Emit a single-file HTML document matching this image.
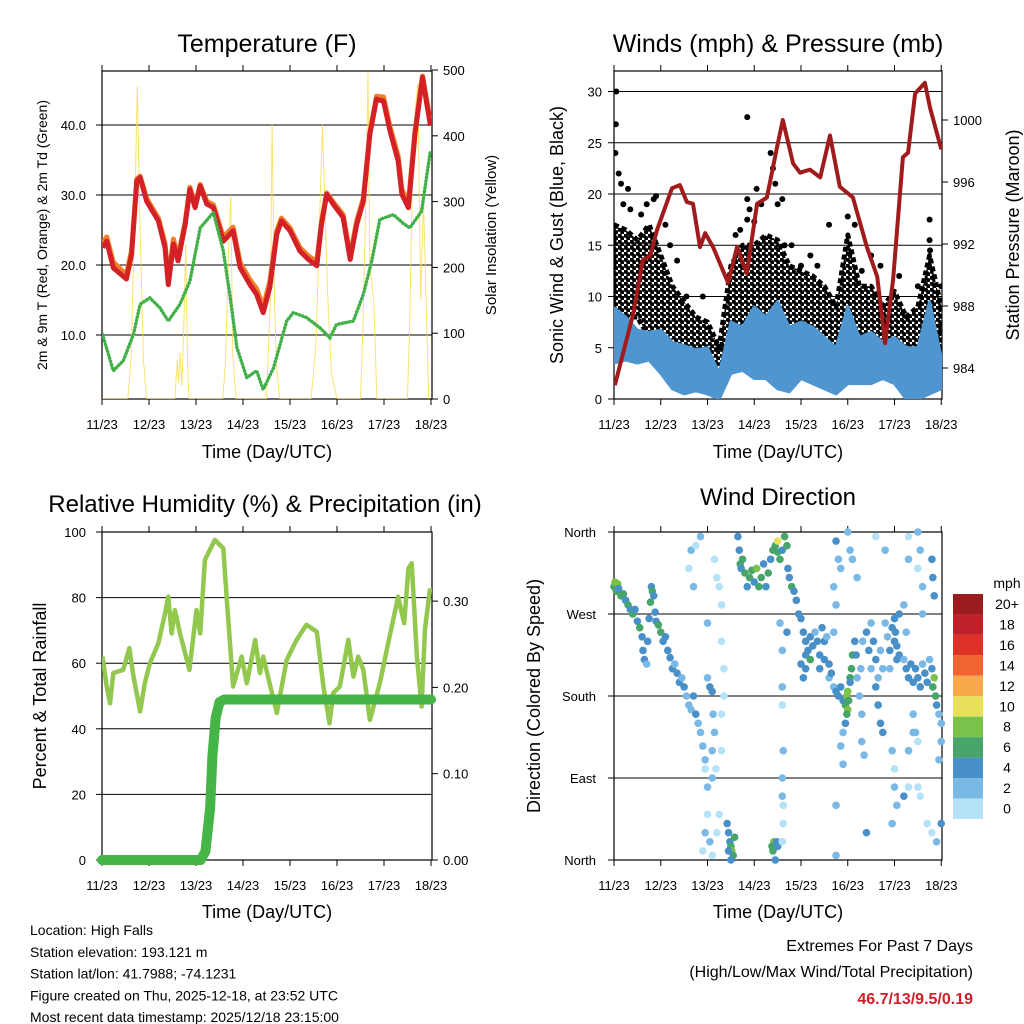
<!DOCTYPE html>
<html><head><meta charset="utf-8"><style>
body{margin:0;background:#fff;}
svg{display:block;font-family:"Liberation Sans",Arial,sans-serif;}
</style></head><body>
<svg id="fig" width="1024" height="1024" viewBox="0 0 1024 1024">
<defs>
<clipPath id="c1"><rect x="102" y="71" width="330" height="328"/></clipPath>
<clipPath id="c2"><rect x="614" y="71" width="328" height="328"/></clipPath>
<clipPath id="c3"><rect x="102" y="532" width="330" height="328"/></clipPath>
<clipPath id="c4"><rect x="610" y="528" width="336" height="336"/></clipPath>
<pattern id="dotpat" width="6" height="6" patternUnits="userSpaceOnUse">
<circle cx="1.5" cy="1.5" r="2.4" fill="#000"/><circle cx="4.5" cy="4.5" r="2.4" fill="#000"/>
</pattern>
</defs>
<g id="root"></g>
</svg>
<script>
// ---------- DATA ----------
const dayLabels = ["11/23","12/23","13/23","14/23","15/23","16/23","17/23","18/23"];
// Temperature (F)
const tempT = [0.01,0.1,0.24,0.52,0.63,0.74,0.81,0.95,1.2,1.34,1.41,1.52,1.62,1.77,1.87,1.98,2.09,2.23,2.37,2.58,2.79,2.94,3.15,3.29,3.43,3.57,3.72,3.82,4.0,4.21,4.39,4.57,4.67,4.78,4.92,5.13,5.28,5.42,5.56,5.7,5.84,5.99,6.13,6.3,6.38,6.52,6.66,6.82,6.91,6.99];
const temp2m = [22.5,23.4,19.6,18.0,21.5,32.0,32.5,29.1,26.3,22.5,17.2,23.0,20.6,25.8,30.8,28.2,31.3,28.7,28.2,23.4,24.9,19.6,17.2,15.8,13.2,16.8,24.4,26.3,24.9,22.0,20.8,19.9,25.8,30.1,28.7,26.8,20.8,25.8,29.1,38.7,43.7,43.4,39.1,34.9,30.1,28.2,38.7,46.8,43.0,39.9];
const temp9mOffset = [0.6,0.6,0.8,0.6,0.6,0.3,0.2,0.4,0.4,0.6,0.6,0.7,0.6,0.4,0.3,0.4,0.2,0.4,0.4,0.6,0.5,0.7,0.7,0.8,0.8,0.8,0.5,0.4,0.4,0.5,0.5,0.6,0.4,0.2,0.3,0.4,0.5,0.5,0.4,0.3,0.4,0.6,0.6,0.7,0.7,0.7,0.5,0.2,0.5,0.5];
const dewT = [0.01,0.24,0.45,0.67,0.81,1.02,1.23,1.41,1.66,1.87,2.09,2.37,2.58,2.72,2.87,3.08,3.29,3.43,3.65,3.93,4.07,4.35,4.64,4.85,4.99,5.35,5.56,5.74,5.91,6.2,6.4,6.55,6.8,6.98];
const dewV = [10.1,4.9,6.3,10.1,14.4,15.3,13.9,12.0,14.4,17.7,25.3,27.5,22.0,15.8,8.2,3.9,4.9,2.2,5.3,12.0,13.2,12.5,11.0,9.6,11.5,12.0,15.8,20.6,26.5,27.2,26.0,25.3,27.7,36.0];
const solarT = [0,0.55,0.62,0.7,0.75,0.8,0.88,0.95,1.55,1.6,1.63,1.66,1.7,1.74,1.78,1.82,1.85,2.57,2.63,2.7,2.74,2.78,2.85,3.5,3.58,3.62,3.67,3.71,3.78,4.45,4.55,4.69,4.8,4.88,5.0,5.5,5.55,5.62,5.66,5.7,5.78,5.85,6.5,6.55,6.62,6.72,6.78,6.84,6.95];
const solarV = [0,0,60,300,475,290,60,0,0,60,25,70,20,110,235,60,0,0,60,240,310,70,0,0,150,417,150,50,0,0,80,417,160,40,0,0,100,320,498,200,150,0,0,120,400,480,150,300,0];
// Winds (mph) & Pressure (mb)
const windT = [0,0.25,0.5,0.75,1,1.25,1.5,1.75,2,2.25,2.5,2.75,3,3.25,3.5,3.75,4,4.25,4.5,4.75,5,5.25,5.5,5.75,6,6.25,6.5,6.75,7];
const sonicHi = [8.9,8,6.7,6.5,6.7,5.5,5.2,4.8,5,2.5,7.5,7,9,8,9.5,7,7.5,7,6,5,9,6,6.5,5.5,6,5,5,9.5,4];
const sonicLo = [3.5,3.8,3.5,3.8,2.5,1,0.5,0.8,0.5,0,2.5,2.8,2,2,1,0.7,2,1.5,1,0.5,1.5,1.5,1.5,2,1.5,0,0,0.5,1];
const gustHi = [17,16.5,15.5,17,14,11,9.5,8,7.5,5,13,15,15,16,15.5,13,12.5,12,11,9,16,11,11,9,10.5,8,9,14,9];
const gustLo = [6,8,8,6,5,4,2,1.5,1.5,0.5,5,6,5,5,4,3,4,4,3,2,4,4,4,4,4,3,3,3,2];
const gustOutT = [0.05,0.04,0.03,0.1,0.15,0.3,0.35,0.58,0.85,0.9,1.1,1.35,1.55,1.9,2.6,2.85,2.85,2.9,3.0,3.05,3.15,3.4,3.45,3.5,3.6,2.85,3.35,3.65,4.0,4.35,4.6,5.0,5.15,5.5,5.7,6.75,6.75,6.76,7.0,0.2,0.7,1.2,2.7,3.8,4.2,5.3,6.1,6.5];
const gustOutV = [30,26.8,24,22,21,20.5,18.5,18,19.5,19.8,17,13.5,10,10,16,17.5,19.5,18.5,17.3,20.5,19,22.5,21,19,19.5,27.5,24,15,13,13,17,17.8,17,14,13,17.5,15.5,14.5,11,19,19,15,16.5,15,14,12.5,12,11];
const presT = [0.02,0.41,0.62,0.77,0.92,1.24,1.41,1.56,1.69,1.84,1.95,2.12,2.44,2.63,2.84,3.06,3.27,3.49,3.61,3.83,3.98,4.19,4.41,4.62,4.83,5.11,5.41,5.63,5.80,5.97,6.18,6.29,6.44,6.65,6.76,7.0];
const presV = [982.9,987.5,991.0,991.2,992.9,995.6,995.8,994.7,994.6,991.8,992.7,991.8,989.5,991.8,990.1,994.6,995.0,998.3,1000.0,997.2,996.6,996.8,996.3,999.0,995.7,995.0,991.8,989.9,985.6,989.7,997.6,997.9,1001.7,1002.4,1000.8,998.1];
// Relative humidity & precipitation
const rhT = [0.01,0.1,0.17,0.24,0.45,0.58,0.67,0.81,0.91,1.02,1.2,1.34,1.41,1.48,1.55,1.66,1.86,2.01,2.09,2.19,2.4,2.58,2.65,2.79,2.97,3.08,3.26,3.36,3.43,3.72,3.93,4.14,4.35,4.57,4.71,4.84,4.92,5.06,5.24,5.35,5.45,5.56,5.7,5.91,6.09,6.3,6.43,6.52,6.59,6.7,6.8,6.87,6.98];
const rhV = [62,52.9,47.8,57,58,64.6,55.9,45.3,53.9,60,66.1,75.2,80.3,69.1,76.2,69.1,58,76.2,69.1,91.5,97.6,95,80.3,52.9,62,53.9,67.1,57,62,44.8,61,67.1,71.7,69.6,52.9,41.7,50.9,52.9,67.1,55.9,62,58,42.7,53.9,66.1,80.3,72.2,88.9,90.5,62,46.8,70.2,82.8];
const prT = [0,2.1,2.2,2.3,2.35,2.42,2.5,2.6,7];
const prV = [0,0,0.01,0.06,0.12,0.165,0.183,0.186,0.186];
// Wind direction (deg) colored by speed (mph)
const dirT = [0,0.02,0.05,0.08,0.1,0.15,0.2,0.25,0.3,0.35,0.4,0.45,0.5,0.55,0.6,0.62,0.65,0.7,0.72,0.75,0.78,0.8,0.82,0.85,0.88,0.9,0.95,1,1.05,1.1,1.15,1.2,1.25,1.3,1.35,1.4,1.45,1.5,1.55,1.6,1.65,1.7,1.75,1.8,1.85,1.9,1.95,2.0,
1.6,1.65,1.7,1.75,1.85,2.15,2.2,2.25,2.3,2.3,2.35,2.35,2.3,2.3,2.25,2.2,2.0,1.9,1.95,2.05,2.1,1.95,2.0,2.05,2.1,2.12,2.15,2.1,2.1,2.0,2.18,
2.42,2.45,2.48,2.5,2.52,2.55,2.58,2.45,2.5,3.4,3.42,3.38,3.45,3.48,3.5,
2.65,2.68,2.7,2.72,2.75,2.8,2.85,2.9,2.95,3.0,3.05,3.1,3.15,3.2,3.25,3.3,3.35,3.4,3.45,3.5,3.5,3.55,3.6,3.65,3.7,3.72,3.75,3.8,3.85,3.9,3.95,
3.6,3.6,3.62,3.6,3.62,3.6,3.55,3.6,3.7,
4.0,4.05,4.1,4.1,4.15,4.2,4.25,4.3,4.35,4.4,4.45,4.5,4.5,4.55,4.0,4.05,4.1,4.4,4.6,4.2,
4.75,4.8,4.7,4.75,4.85,4.7,5.0,5.05,5.1,5.2,5.6,5.8,6.3,6.5,6.55,6.3,6.5,6.6,6.2,6.25,6.6,6.8,6.82,6.85,
4.6,4.65,4.7,4.75,4.8,4.85,4.9,4.95,4.98,5.0,5.02,5.0,4.98,5.05,5.08,5.1,5.05,4.95,4.9,4.85,4.9,5.15,5.18,5.2,5.25,5.3,5.3,5.35,5.28,5.32,
5.4,5.45,5.5,5.5,5.55,5.6,5.6,5.65,5.7,5.75,5.8,5.85,5.9,5.95,6.0,6.02,6.05,6.1,6.1,6.05,6.0,5.65,5.7,5.75,5.9,5.95,6.0,6.05,5.95,6.0,
6.2,6.25,6.3,6.35,6.4,6.45,6.5,6.55,6.6,6.65,6.7,6.75,6.8,6.82,6.85,6.88,6.9,6.95,7.0,6.4,6.45,6.5,6.3,6.3,6.5,6.55,6.7,6.8,6.9,7.0,6.95,7.0,6.2,6.4,
4.75,4.75,5.4,5.95,3.62,3.6];
const dirD = [300,305,295,303,298,290,292,285,280,275,270,275,262,255,245,230,220,215,240,265,283,300,295,290,272,262,258,250,240,245,230,222,210,215,205,195,200,190,180,170,165,180,160,150,140,125,110,260,
320,340,300,345,355,330,310,300,280,240,210,180,160,120,50,30,80,10,30,20,5,100,200,190,185,160,140,120,90,50,100,
40,30,20,15,10,5,25,10,0,10,20,15,0,20,15,
355,340,325,320,330,315,300,310,318,305,320,300,310,325,300,315,330,340,345,350,338,330,340,355,345,320,310,300,295,285,270,
190,170,120,90,60,70,260,230,250,
265,250,240,225,230,245,235,250,240,225,255,240,220,245,215,200,210,210,200,220,
350,330,300,280,320,250,360,340,330,310,355,340,355,360,340,330,320,300,280,250,270,330,310,290,
215,205,190,185,180,190,175,170,180,185,175,165,160,200,210,225,195,150,140,125,105,240,225,200,180,160,130,115,210,240,
250,230,210,260,240,220,190,170,150,140,260,245,230,255,265,250,235,270,225,220,240,200,230,210,210,120,80,60,40,100,
220,210,200,215,195,210,200,190,215,205,195,220,210,190,200,180,170,160,150,160,140,130,120,80,80,70,40,30,20,40,110,130,70,140,
60,5,30,40,40,20];
const dirS = [6,8,6,8,4,6,6,4,6,4,6,4,4,6,4,4,4,2,4,4,6,4,6,4,4,4,6,6,4,4,4,4,4,2,4,4,2,4,2,2,2,4,4,2,2,2,2,2,
0,2,2,0,2,0,0,0,0,0,0,0,0,0,0,0,2,0,2,2,0,0,2,4,4,2,2,2,2,0,0,
4,4,4,6,8,6,6,4,4,6,8,6,4,4,4,
4,4,6,4,6,6,4,6,6,4,8,6,6,4,4,6,4,6,6,10,6,6,4,6,6,4,4,6,4,4,4,
2,0,2,2,0,2,2,2,4,
4,4,4,4,4,4,4,2,4,4,4,4,4,2,4,4,4,4,2,6,
4,2,2,2,2,2,2,2,2,2,0,2,0,2,2,2,0,2,2,2,2,4,4,4,
4,4,2,4,4,4,4,6,8,8,6,8,6,6,6,6,4,4,2,2,2,4,4,2,2,2,2,2,2,2,
4,4,2,2,4,4,4,4,4,4,2,2,4,4,4,4,4,4,4,4,4,2,2,2,2,2,2,2,0,0,
2,4,4,4,4,4,4,4,2,4,4,2,4,6,8,6,4,2,2,2,2,0,2,0,0,0,0,0,2,4,2,2,4,2,
2,2,4,2,0,0];
const speedLabels = ["20+","18","16","14","12","10","8","6","4","2","0"];
const speedColors = ["#9b1c1f","#c0202a","#de3228","#f26430","#f9a84a","#e8e05a","#7ac24a","#47a56a","#4a90c8","#7ab8e5","#b5e2f7"];

// ---------- HELPERS ----------
const NS="http://www.w3.org/2000/svg";
const root=document.getElementById('root');
function el(tag, attrs, parent){const e=document.createElementNS(NS,tag);for(const k in attrs)e.setAttribute(k,attrs[k]);(parent||root).appendChild(e);return e;}
function txt(s, x, y, size, anchor, parent, extra){const t=el('text',Object.assign({x:x,y:y,'font-size':size,'text-anchor':anchor||'middle',fill:'#000'},extra||{}),parent);t.textContent=s;return t;}
function pts(ts, vs, fx, fy){return ts.map((t,i)=>fx(t).toFixed(1)+','+fy(vs[i]).toFixed(1)).join(' ');}

function frame(x0,y0,w,h,name){
  const g=el('g',{});
  
  
  el('rect',{x:x0,y:y0,width:w,height:h,fill:'none',stroke:'#000','stroke-width':1.2},g);
  return g;
}
function xAxis(g, fx, y0, y1){
  dayLabels.forEach((d,i)=>{
    const x=fx(i);
    el('line',{x1:x,y1:y1,x2:x,y2:y1+6,stroke:'#000'},g);
    el('line',{x1:x,y1:y0,x2:x,y2:y0-6,stroke:'#000'},g);
    const t=txt(d,x,y1+30,13,'middle',g);
    
    
  });
}
function hGrid(g, vals, fy, x0, x1, labels, lx){
  vals.forEach((v,i)=>{
    const y=fy(v);
    el('line',{x1:x0,y1:y,x2:x1,y2:y,stroke:'#000','stroke-width':1},g);
    el('line',{x1:x0-6,y1:y,x2:x0,y2:y,stroke:'#000'},g);
    const t=txt(labels[i],lx,y+5,13,'end',g);
    
    
  });
}
function rTicks(g, vals, fy, x1, labels){
  vals.forEach((v,i)=>{
    const y=fy(v);
    el('line',{x1:x1,y1:y,x2:x1+6,y2:y,stroke:'#000'},g);
    const t=txt(labels[i],x1+11,y+5,13,'start',g);
    
    
  });
}
function vTitle(s,x,y,size,g){const t=txt(s,0,0,size,'middle',g,{transform:`translate(${x},${y}) rotate(-90)`});return t;}

// ---------- PANEL 1: Temperature ----------
{
const fx=t=>102+t*47, fyT=v=>405-v*7, fyS=v=>399-v*0.658;
const g=frame(102,71,330,328,'temperature-panel');
hGrid(g,[10,20,30,40],fyT,102,432,["10.0","20.0","30.0","40.0"],86);
rTicks(g,[0,100,200,300,400,500],fyS,432,["0","100","200","300","400","500"]);
xAxis(g,fx,71,399);
const c=el('g',{'clip-path':'url(#c1)'},g);
const s=el('polyline',{points:pts(solarT,solarV,fx,fyS),fill:'none',stroke:'#f7dc4a','stroke-width':1,opacity:0.8},c);


const o=el('polyline',{points:pts(tempT,temp2m.map((v,i)=>v+temp9mOffset[i]),fx,fyT),fill:'none',stroke:'#f07f2a','stroke-width':5,'stroke-linejoin':'round'},c);


const r=el('polyline',{points:pts(tempT,temp2m,fx,fyT),fill:'none',stroke:'#d42027','stroke-width':5,'stroke-linejoin':'round'},c);


const d=el('polyline',{points:pts(dewT,dewV,fx,fyT),fill:'none',stroke:'#44b04a','stroke-width':3.5,'stroke-linecap':'round','stroke-dasharray':'0.5 3'},c);


const ti=txt("Temperature (F)",267,52,25,'middle',g);  
const yl=vTitle("2m & 9m T (Red, Orange) & 2m Td (Green)",47,235,14,g);  
const yr=vTitle("Solar Insolation (Yellow)",496,235,15,g);  
const xt=txt("Time (Day/UTC)",267,458,18,'middle',g);  
}

// ---------- PANEL 2: Winds ----------
{
const fx=t=>614+t*46.75, fyW=v=>399-v*10.25, fyP=p=>368-(p-984)*15.5;
const g=frame(614,71,328,328,'winds-panel');
hGrid(g,[0,5,10,15,20,25,30],fyW,614,942,["0","5","10","15","20","25","30"],602);
rTicks(g,[984,988,992,996,1000],fyP,942,["984","988","992","996","1000"]);
xAxis(g,fx,71,399);
const c=el('g',{'clip-path':'url(#c2)'},g);
const bandPts=pts(windT,gustHi,fx,fyW)+' '+pts(windT.slice().reverse(),gustLo.slice().reverse(),fx,fyW);
const gb=el('polygon',{points:bandPts,fill:'url(#dotpat)',stroke:'#000','stroke-width':5,'stroke-linejoin':'round','stroke-dasharray':'5 3'},c);


gustOutT.forEach((t,i)=>{
  const p=el('circle',{cx:fx(t),cy:fyW(gustOutV[i]),r:3,fill:'#000'},c);
  
  
});
const sbPts=pts(windT,sonicHi,fx,fyW)+' '+pts(windT.slice().reverse(),sonicLo.slice().reverse(),fx,fyW);
const sb=el('polygon',{points:sbPts,fill:'#4f96d0',stroke:'#4f96d0','stroke-width':3,'stroke-linejoin':'round'},c);


const pr=el('polyline',{points:pts(presT,presV,fx,fyP),fill:'none',stroke:'#a01c1c','stroke-width':4,'stroke-linejoin':'round'},c);


const ti=txt("Winds (mph) & Pressure (mb)",778,52,25,'middle',g);  
const yl=vTitle("Sonic Wind & Gust (Blue, Black)",563,235,18,g);  
const yr=vTitle("Station Pressure (Maroon)",1019,235,18,g);  
const xt=txt("Time (Day/UTC)",778,458,18,'middle',g);  
}

// ---------- PANEL 3: RH & precip ----------
{
const fx=t=>102+t*47, fyR=v=>860-v*3.28, fyPr=v=>860-v*863;
const g=frame(102,532,330,328,'humidity-panel');
hGrid(g,[0,20,40,60,80,100],fyR,102,432,["0","20","40","60","80","100"],86);
rTicks(g,[0,0.1,0.2,0.3],fyPr,432,["0.00","0.10","0.20","0.30"]);
xAxis(g,fx,532,860);
const c=el('g',{'clip-path':'url(#c3)'},g);
const rh=el('polyline',{points:pts(rhT,rhV,fx,fyR),fill:'none',stroke:'#92c84e','stroke-width':4.5,'stroke-linejoin':'round'},c);


const pp=el('polyline',{points:pts(prT,prV,fx,fyPr),fill:'none',stroke:'#46b548','stroke-width':10,'stroke-linejoin':'round','stroke-linecap':'round'},g);


const ti=txt("Relative Humidity (%) & Precipitation (in)",265,512,24,'middle',g);  
const yl=vTitle("Percent & Total Rainfall",46,696,18,g);  
const xt=txt("Time (Day/UTC)",267,918,18,'middle',g);  
}

// ---------- PANEL 4: Wind direction ----------
{
const fx=t=>614+t*46.75, fyD=d=>860-d*(328/360);
const g=frame(614,532,328,328,'wind-direction-panel');
hGrid(g,[0,90,180,270,360],fyD,614,942,["North","East","South","West","North"],596);
xAxis(g,fx,532,860);
const c=el('g',{'clip-path':'url(#c4)'},g);
dirT.forEach((t,i)=>{
  const idx=Math.max(0,Math.min(10,10-Math.floor(dirS[i]/2)));
  const p=el('circle',{cx:fx(t),cy:fyD(dirD[i]),r:3.8,fill:speedColors[idx]},c);
  
  
});
const ti=txt("Wind Direction",778,505,24,'middle',g);  
const yl=vTitle("Direction (Colored By Speed)",540,696,18,g);  
const xt=txt("Time (Day/UTC)",778,918,18,'middle',g);  
// colorbar
const cb=el('g',{});


const u=txt("mph",1007,588,14,'middle',cb);
speedLabels.forEach((lab,i)=>{
  const y=594+i*20.45;
  const r=el('rect',{x:953,y:y,width:30,height:20.45,fill:speedColors[i]},cb);
  
  
  txt(lab,1007,y+15,14,'middle',cb);
});
}

// ---------- footer text ----------
{
const f=el('g',{});


["Location: High Falls","Station elevation: 193.121 m","Station lat/lon: 41.7988; -74.1231","Figure created on Thu, 2025-12-18, at 23:52 UTC","Most recent data timestamp: 2025/12/18 23:15:00"].forEach((s,i)=>{
  txt(s,30,935+i*21.8,14,'start',f);
});
const e=el('g',{});


txt("Extremes For Past 7 Days",973,951,16,'end',e);
txt("(High/Low/Max Wind/Total Precipitation)",973,977,16,'end',e);
txt("46.7/13/9.5/0.19",973,1004,16,'end',e,{fill:'#d0202a','font-weight':'bold'});
}
</script>
</body></html>
